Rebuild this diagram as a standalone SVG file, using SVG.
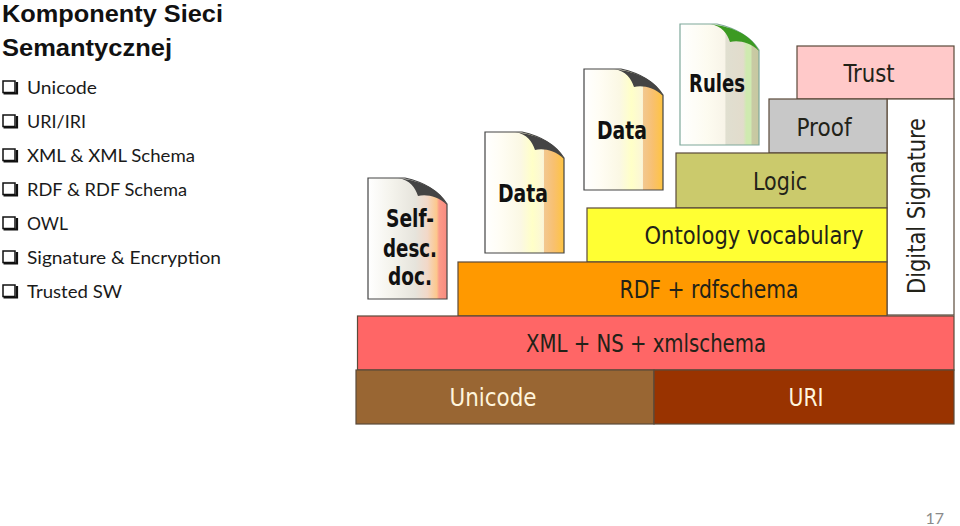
<svg xmlns="http://www.w3.org/2000/svg" width="960" height="526" viewBox="0 0 960 526">
<style>
.h{font:bold 23.500px "Liberation Sans",Arial,sans-serif;fill:#111}
.b{font:18px Lato,"Open Sans",sans-serif;fill:#1a1a1a}
.l{font:24px "DejaVu Sans Condensed","DejaVu Sans",sans-serif;fill:#222218;text-anchor:middle}
.d{font:bold 25px "DejaVu Sans Condensed","DejaVu Sans",sans-serif;fill:#111;text-anchor:middle}
.box{stroke:#5a4a3a;stroke-width:1.2}
.page{stroke:#444;stroke-width:1.2}
.cb{fill:#fff;stroke:#111;stroke-width:1.5}
</style>
<defs>
<linearGradient id="gs"><stop offset="0" stop-color="#fff"/><stop offset=".3" stop-color="#f4f3ec"/><stop offset=".6" stop-color="#e6e4dc"/><stop offset=".75" stop-color="#f2d8c8"/><stop offset=".87" stop-color="#fcc78c"/><stop offset=".9" stop-color="#fb9a88"/><stop offset="1" stop-color="#f98a80"/></linearGradient>
<linearGradient id="gd"><stop offset="0" stop-color="#fff"/><stop offset=".2" stop-color="#fffdf4"/><stop offset=".45" stop-color="#fbf8e4"/><stop offset=".6" stop-color="#ffffc8"/><stop offset=".74" stop-color="#fbf6d8"/><stop offset=".75" stop-color="#f2c890"/><stop offset=".87" stop-color="#f8c070"/><stop offset="1" stop-color="#ffc440"/></linearGradient>
<linearGradient id="gr"><stop offset="0" stop-color="#fff"/><stop offset=".35" stop-color="#fdfbf0"/><stop offset=".57" stop-color="#f8f4e8"/><stop offset=".58" stop-color="#e0dfd0"/><stop offset=".8" stop-color="#e2dccc"/><stop offset=".84" stop-color="#cfeab0"/><stop offset=".9" stop-color="#cfeab0"/><stop offset=".91" stop-color="#c8caa4"/><stop offset="1" stop-color="#c8c8a0"/></linearGradient>
<path id="doc" d="M0 0H37C55 4 70 12 79 26V121H0Z"/>
<path id="fold" d="M30 0C42 2 47 9 50 18C58 16 70 18 79 27C72 12 55 3 30 0Z"/>
<g id="cbx"><rect x="4" y="-13" width="12" height="11.500" class="cb"/><path d="M4.500 -.5H18V-12" fill="none" stroke="#111" stroke-width="2.200"/></g>
</defs>

<g id="title">
<text class="h" x="2" y="21.500" textLength="221" lengthAdjust="spacingAndGlyphs">Komponenty Sieci</text>
<text class="h" x="2" y="56" textLength="170" lengthAdjust="spacingAndGlyphs">Semantycznej</text>
</g>
<g id="bullets">
<use href="#cbx" x="-1" y="94"/><text class="b" x="27" y="94" textLength="70" lengthAdjust="spacingAndGlyphs">Unicode</text>
<use href="#cbx" x="-1" y="128"/><text class="b" x="27" y="128" textLength="59" lengthAdjust="spacingAndGlyphs">URI/IRI</text>
<use href="#cbx" x="-1" y="162"/><text class="b" x="27" y="162" textLength="168" lengthAdjust="spacingAndGlyphs">XML &amp; XML Schema</text>
<use href="#cbx" x="-1" y="196"/><text class="b" x="27" y="196" textLength="160" lengthAdjust="spacingAndGlyphs">RDF &amp; RDF Schema</text>
<use href="#cbx" x="-1" y="230"/><text class="b" x="27" y="230" textLength="41" lengthAdjust="spacingAndGlyphs">OWL</text>
<use href="#cbx" x="-1" y="264"/><text class="b" x="27" y="264" textLength="194" lengthAdjust="spacingAndGlyphs">Signature &amp; Encryption</text>
<use href="#cbx" x="-1" y="298"/><text class="b" x="27" y="298" textLength="95" lengthAdjust="spacingAndGlyphs">Trusted SW</text>
</g>

<g id="connectors"></g>

<g id="node-selfdesc">
<use href="#doc" x="368" y="178" fill="url(#gs)" class="page"/>
<use href="#fold" x="368" y="178" fill="#444"/>
<text class="d" x="410" y="227" textLength="48" lengthAdjust="spacingAndGlyphs">Self-</text><text class="d" x="410" y="257" textLength="54" lengthAdjust="spacingAndGlyphs">desc.</text><text class="d" x="410" y="285" textLength="44" lengthAdjust="spacingAndGlyphs">doc.</text>
</g>
<g id="node-data1">
<use href="#doc" x="485" y="132" fill="url(#gd)" class="page"/>
<use href="#fold" x="485" y="132" fill="#444"/>
<text class="d" x="523" y="202" textLength="50" lengthAdjust="spacingAndGlyphs">Data</text>
</g>
<g id="node-data2">
<use href="#doc" x="584" y="69" fill="url(#gd)" class="page"/>
<use href="#fold" x="584" y="69" fill="#444"/>
<text class="d" x="622" y="139" textLength="50" lengthAdjust="spacingAndGlyphs">Data</text>
</g>
<g id="node-rules">
<use href="#doc" x="680" y="24" fill="url(#gr)" stroke="#7fa89a" stroke-width="1.2"/>
<use href="#fold" x="680" y="24" fill="#3c9a22"/>
<text class="d" x="717" y="92" textLength="56" lengthAdjust="spacingAndGlyphs">Rules</text>
</g>

<g id="node-trust"><rect class="box" x="797" y="46" width="157" height="53" fill="#ffc9c9"/><text class="l" x="869" y="82" textLength="51" lengthAdjust="spacingAndGlyphs">Trust</text></g>
<g id="node-digsig"><rect class="box" x="887" y="99" width="67" height="216" fill="#fff"/><text class="l" transform="translate(925,206) rotate(-90)" textLength="176" lengthAdjust="spacingAndGlyphs">Digital Signature</text></g>
<g id="node-proof"><rect class="box" x="769" y="99" width="118" height="54" fill="#c8c8c8"/><text class="l" x="824" y="136" textLength="55" lengthAdjust="spacingAndGlyphs">Proof</text></g>
<g id="node-logic"><rect class="box" x="676" y="153" width="211" height="55" fill="#cbca6c"/><text class="l" x="780" y="190" textLength="54" lengthAdjust="spacingAndGlyphs">Logic</text></g>
<g id="node-ontology"><rect class="box" x="587" y="208" width="300" height="54" fill="#ffff33"/><text class="l" x="754" y="244" textLength="219" lengthAdjust="spacingAndGlyphs">Ontology vocabulary</text></g>
<g id="node-rdf"><rect class="box" x="458" y="262" width="429" height="54" fill="#ff9900"/><text class="l" x="709" y="298" textLength="179" lengthAdjust="spacingAndGlyphs">RDF + rdfschema</text></g>
<g id="node-xml"><rect class="box" x="357.500" y="316" width="596.500" height="54" fill="#ff6666"/><text class="l" x="646" y="352" textLength="240" lengthAdjust="spacingAndGlyphs">XML + NS + xmlschema</text></g>
<g id="node-unicode"><rect class="box" x="356" y="370" width="298" height="54" fill="#996633"/><text class="l" x="493" y="406" style="fill:#fff5dc" textLength="87" lengthAdjust="spacingAndGlyphs">Unicode</text></g>
<g id="node-uri"><rect class="box" x="654" y="370" width="300" height="54" fill="#993300"/><text class="l" x="806" y="406" style="fill:#fff5dc" textLength="35" lengthAdjust="spacingAndGlyphs">URI</text></g>

<text id="page-number" x="944" y="524" text-anchor="end" style="font:16px Lato,'Open Sans',sans-serif;fill:#8a8a8a">17</text>
</svg>
